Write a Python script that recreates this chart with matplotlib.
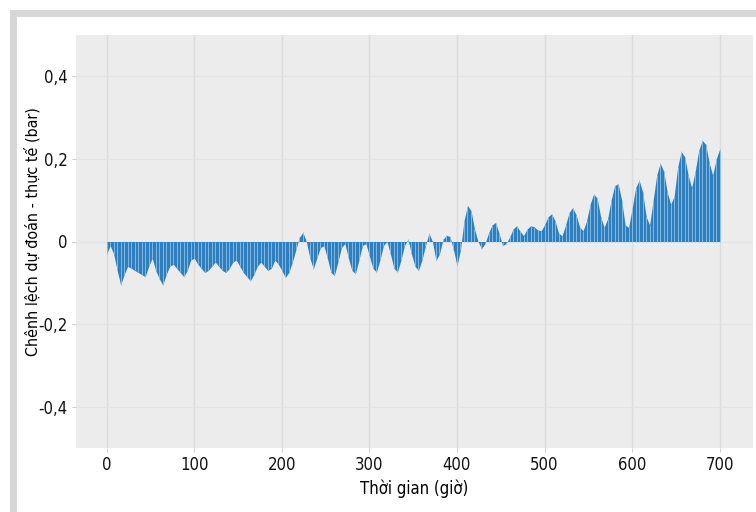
import numpy as np
import matplotlib
matplotlib.use("Agg")
import matplotlib.pyplot as plt
from matplotlib.patches import Rectangle

plt.rcParams['font.family'] = ['DejaVu Sans']
plt.rcParams['font.stretch'] = 'condensed'

# readings every 4 hours, 0 .. 700 h
hours = list(range(0, 701, 4))
diff = [
    -0.03, -0.01, -0.03, -0.07, -0.105, -0.08, -0.06, -0.065, -0.07, -0.075,
    -0.08, -0.085, -0.06, -0.04, -0.07, -0.09, -0.105, -0.08, -0.06, -0.055,
    -0.065, -0.075, -0.085, -0.07, -0.045, -0.04, -0.055, -0.065, -0.075, -0.07,
    -0.06, -0.05, -0.06, -0.07, -0.075, -0.065, -0.05, -0.045, -0.06, -0.075,
    -0.085, -0.095, -0.08, -0.06, -0.05, -0.06, -0.07, -0.065, -0.045, -0.055,
    -0.07, -0.087, -0.075, -0.05, -0.02, 0.01, 0.022, 0.0, -0.04, -0.066,
    -0.04, -0.015, -0.01, -0.04, -0.075, -0.082, -0.05, -0.015, -0.005, -0.04,
    -0.07, -0.078, -0.045, -0.01, -0.005, -0.035, -0.065, -0.074, -0.045, -0.01,
    0.0, -0.03, -0.065, -0.074, -0.045, -0.01, 0.005, -0.03, -0.06, -0.07,
    -0.045, -0.01, 0.02, 0.0, -0.046, -0.03, 0.005, 0.015, 0.012, -0.02,
    -0.058, -0.02, 0.05, 0.087, 0.075, 0.03, 0.0, -0.017, -0.005, 0.02,
    0.04, 0.046, 0.02, -0.01, -0.005, 0.01, 0.03, 0.038, 0.025, 0.014,
    0.03, 0.038, 0.036, 0.028, 0.026, 0.04, 0.06, 0.067, 0.05, 0.02,
    0.014, 0.04, 0.07, 0.082, 0.065, 0.035, 0.026, 0.05, 0.09, 0.115,
    0.105, 0.06, 0.034, 0.055, 0.1, 0.135, 0.14, 0.1, 0.04, 0.034,
    0.08, 0.13, 0.148, 0.12, 0.06, 0.04, 0.1, 0.16, 0.19, 0.17,
    0.12, 0.09, 0.11, 0.18, 0.218, 0.205, 0.16, 0.13, 0.17, 0.22,
    0.245, 0.235, 0.19, 0.16, 0.2, 0.224,
]

xticks = [0, 100, 200, 300, 400, 500, 600, 700]
yticks = [-0.4, -0.2, 0, 0.2, 0.4]
ylabels = ['-0,4', '-0,2', '0', '0,2', '0,4']

fig = plt.figure(figsize=(7.56, 5.12), dpi=100)
fig.patch.set_facecolor('white')

# grey frame around the figure (cut at right and bottom)
fig.patches.append(Rectangle((13 / 756, -0.05), 1.1, (512 - 13) / 512 + 0.05,
                             transform=fig.transFigure, fill=False,
                             edgecolor='#d6d6d6', linewidth=5))

ax = fig.add_axes([76 / 756, 64 / 512, 677 / 756, 413 / 512])
ax.set_facecolor('#ececec')
for s in ax.spines.values():
    s.set_visible(False)

ax.fill_between(hours, diff, 0, color='#2f7fbe', linewidth=0, zorder=3)
ax.vlines(hours, 0, diff, color='#8cc3ea', linewidth=0.6, zorder=4)

ax.set_xlim(-35, 738)
ax.set_ylim(-0.5, 0.5)
ax.set_xticks(xticks)
ax.set_yticks(yticks)
ax.set_yticklabels(ylabels)
ax.xaxis.grid(True, color='#dcdcdc', linewidth=1.0, zorder=0)
ax.yaxis.grid(True, color='#e4e4e4', linewidth=0.8, zorder=0)
ax.set_axisbelow(True)
ax.tick_params(length=3, width=0.6, color='#c8c8c8', labelsize=12,
               labelcolor='#111111', pad=3)

ax.set_xlabel('Thời gian (giờ)', fontsize=12, labelpad=4)
ax.set_ylabel('Chênh lệch dự đoán - thực tế (bar)', fontsize=11.5)
ax.yaxis.set_label_coords(-0.053, 0.525)

fig.savefig('out.png', dpi=100)
